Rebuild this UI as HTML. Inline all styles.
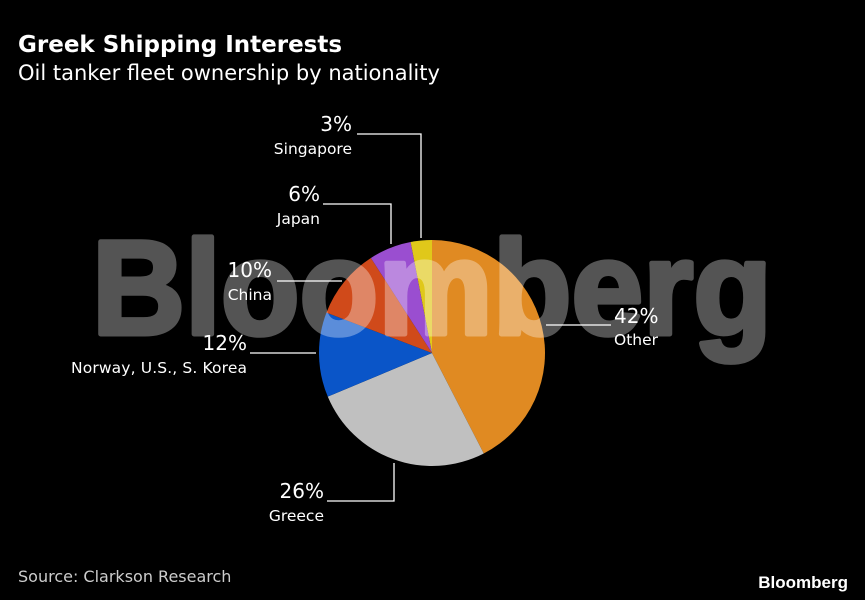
<!DOCTYPE html>
<html><head><meta charset="utf-8"><style>
body{margin:0;background:#000;}
svg{display:block;font-family:"DejaVu Sans","Liberation Sans",sans-serif;}
</style></head><body>
<svg width="865" height="600">
<rect width="865" height="600" fill="#000"/>
<text x="18" y="52" fill="#fff" font-size="23" font-weight="bold">Greek Shipping Interests</text>
<text x="18" y="80" fill="#fff" font-size="21">Oil tanker fleet ownership by nationality</text>
<g id="pie"></g>
<text x="92" y="334" textLength="680" lengthAdjust="spacingAndGlyphs" font-family="'Liberation Sans',sans-serif" font-weight="bold" font-size="134" fill="#fff" stroke="#fff" stroke-width="5" stroke-linejoin="round" opacity="0.33">Bloomberg</text>
<g id="labels" stroke="#fff" stroke-width="1.3" fill="none">
<polyline points="357,134 421,134 421,238"/>
<polyline points="323,204 391,204 391,244"/>
<polyline points="277,281 342,281"/>
<polyline points="250,353 316,353"/>
<polyline points="546,325 611,325"/>
<polyline points="327,501 394,501 394,463"/>
</g>
<g fill="#fff">
<text x="352" y="131" font-size="20" text-anchor="end">3%</text>
<text x="352" y="154" font-size="15.5" text-anchor="end">Singapore</text>
<text x="320" y="201" font-size="20" text-anchor="end">6%</text>
<text x="320" y="224" font-size="15.5" text-anchor="end">Japan</text>
<text x="272" y="277" font-size="20" text-anchor="end">10%</text>
<text x="272" y="300" font-size="15.5" text-anchor="end">China</text>
<text x="247" y="350" font-size="20" text-anchor="end">12%</text>
<text x="247" y="373" font-size="15.5" text-anchor="end" textLength="176">Norway, U.S., S. Korea</text>
<text x="614" y="323" font-size="20">42%</text>
<text x="614" y="345" font-size="15.5">Other</text>
<text x="324" y="498" font-size="20" text-anchor="end">26%</text>
<text x="324" y="521" font-size="15.5" text-anchor="end">Greece</text>
</g>
<text x="18" y="582" fill="#ccc" font-size="16">Source: Clarkson Research</text>
<text x="848" y="588" fill="#fff" font-size="17" font-weight="bold" font-family="'Liberation Sans',sans-serif" text-anchor="end">Bloomberg</text>
</svg>
<script>
const categories=["Other","Greece","Norway, U.S., S. Korea","China","Japan","Singapore"];
const values=[42,26,12,10,6,3];
const colors=["#e08a22","#c0c0c0","#0a55c8","#d04a1a","#9a4ed0","#e0c81a"];
const cx=432,cy=353,r=113;
const total=values.reduce((a,b)=>a+b,0);
const g=document.getElementById('pie');
let a=0;
values.forEach((v,i)=>{
  const a0=a/total*2*Math.PI, a1=(a+v)/total*2*Math.PI; a+=v;
  const x0=cx+r*Math.sin(a0),y0=cy-r*Math.cos(a0),x1=cx+r*Math.sin(a1),y1=cy-r*Math.cos(a1);
  const p=document.createElementNS('http://www.w3.org/2000/svg','path');
  p.setAttribute('d',`M${cx},${cy}L${x0},${y0}A${r},${r} 0 ${a1-a0>Math.PI?1:0} 1 ${x1},${y1}Z`);
  p.setAttribute('fill',colors[i]);
  
  
  g.appendChild(p);
});
</script>
</body></html>
